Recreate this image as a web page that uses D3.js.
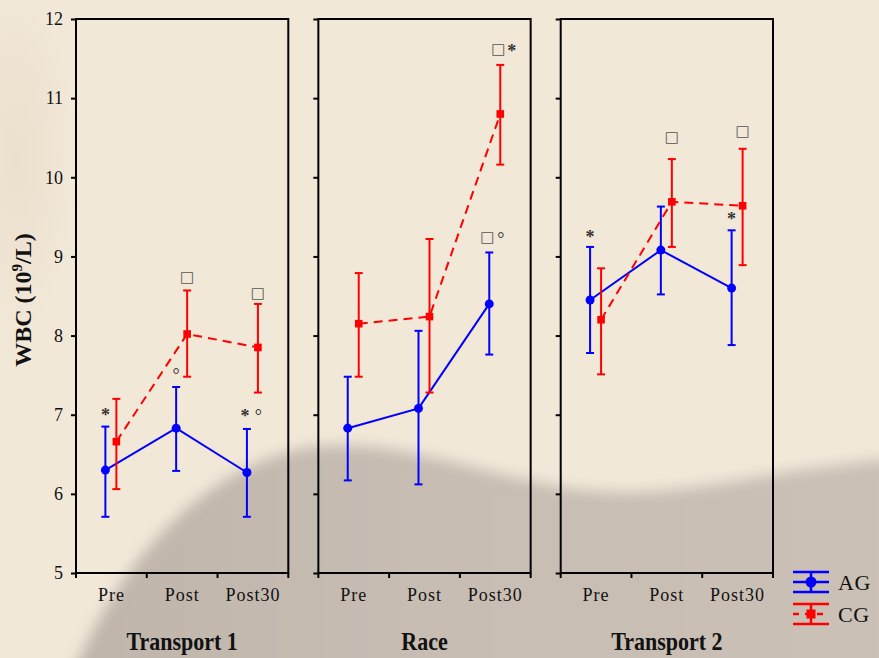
<!DOCTYPE html>
<html>
<head>
<meta charset="utf-8">
<script src="https://cdn.jsdelivr.net/npm/d3@7"></script>
<style>
  body { margin: 0; background: #f2e8d8; }
  svg { display: block; }
</style>
</head>
<body>
<div id="chart"></div>
<script>
const panels = ["Transport 1", "Race", "Transport 2"];
const times = ["Pre", "Post", "Post30"];
const groups = ["AG", "CG"];
const yTicks = [5, 6, 7, 8, 9, 10, 11, 12];

// means per panel (rows) and time (cols)
const agMean = [[6.30, 6.83, 6.27], [6.83, 7.08, 8.40], [8.45, 9.08, 8.60]];
const agHigh = [[6.85, 7.35, 6.82], [7.48, 8.06, 9.05], [9.12, 9.63, 9.33]];
const agLow  = [[5.71, 6.29, 5.71], [6.17, 6.12, 7.76], [7.78, 8.52, 7.88]];
const cgMean = [[6.66, 8.02, 7.85], [8.15, 8.24, 10.80], [8.20, 9.69, 9.64]];
const cgHigh = [[7.20, 8.57, 8.40], [8.79, 9.22, 11.42], [8.85, 10.23, 10.36]];
const cgLow  = [[6.06, 7.48, 7.28], [7.48, 7.28, 10.16], [7.51, 9.12, 8.89]];

// significance marks: panel, time, group, glyphs, level (WBC units)
const marks = [
  ["Transport 1", "Pre", "AG", "*", 7.02],
  ["Transport 1", "Post", "AG", "°", 7.53],
  ["Transport 1", "Post", "CG", "□", 8.74],
  ["Transport 1", "Post30", "CG", "□", 8.54],
  ["Transport 1", "Post30", "AG", "*°", 7.01],
  ["Race", "Post30", "CG", "□*", 11.62],
  ["Race", "Post30", "AG", "□°", 9.25],
  ["Transport 2", "Pre", "AG", "*", 9.27],
  ["Transport 2", "Post", "CG", "□", 10.51],
  ["Transport 2", "Post30", "CG", "□", 10.59],
  ["Transport 2", "Post30", "AG", "*", 9.50]
];

const width = 879, height = 658;
const serif = "'Liberation Serif', 'Times New Roman', serif";
const colour = {AG: "#0000ff", CG: "#ff0000"};

const svg = d3.select("#chart").append("svg")
    .attr("width", width)
    .attr("height", height);

// background: beige paper with a blurred grey shape
const defs = svg.append("defs");
defs.append("filter").attr("id", "blur")
    .attr("x", "-20%").attr("y", "-20%").attr("width", "140%").attr("height", "140%")
    .append("feGaussianBlur").attr("stdDeviation", 7);
const greyGrad = defs.append("linearGradient").attr("id", "grey")
    .attr("x1", 0).attr("y1", 0).attr("x2", 1).attr("y2", 0);
greyGrad.append("stop").attr("offset", "0%").attr("stop-color", "#bfb5ab");
greyGrad.append("stop").attr("offset", "45%").attr("stop-color", "#c7bdb3");
greyGrad.append("stop").attr("offset", "100%").attr("stop-color", "#cac0b6");
const warm = defs.append("radialGradient").attr("id", "warm");
warm.append("stop").attr("offset", "0%").attr("stop-color", "#e8dbc8").attr("stop-opacity", 0.7);
warm.append("stop").attr("offset", "100%").attr("stop-color", "#e8dbc8").attr("stop-opacity", 0);

svg.append("rect").attr("width", width).attr("height", height).attr("fill", "#f2e8d8");
svg.append("ellipse").attr("cx", 15).attr("cy", 160).attr("rx", 60).attr("ry", 180).attr("fill", "url(#warm)");
svg.append("path")
    .attr("d", "M 70,680 C 120,560 200,472 300,449 C 380,434 460,468 560,487 C 650,502 720,482 800,470 C 840,465 860,462 890,458 L 890,680 Z")
    .attr("fill", "url(#grey)")
    .attr("filter", "url(#blur)");

// scales
const panelX = d3.scaleBand().domain(panels).range([76, 773]).paddingInner(0.124);
const y = d3.scaleLinear().domain([5, 12]).range([573, 19]);
const offset = d3.scalePoint().domain(groups).range([-6, 5]);

const series = {
  AG: {mean: agMean, high: agHigh, low: agLow},
  CG: {mean: cgMean, high: cgHigh, low: cgLow}
};

panels.forEach((p, pi) => {
  const x0 = panelX(p), w = panelX.bandwidth();
  const x = d3.scaleBand().domain(times).range([x0, x0 + w]);
  const cx = (t, g) => x(t) + x.bandwidth() / 2 + offset(g);
  const g = svg.append("g");

  // frame
  g.append("rect")
      .attr("x", x0).attr("y", y(12))
      .attr("width", w).attr("height", y(5) - y(12))
      .attr("fill", "none").attr("stroke", "#000").attr("stroke-width", 2);

  // y axis ticks
  const yAxis = d3.axisLeft(y).tickValues(yTicks).tickFormat(d3.format("d")).tickSize(5).tickPadding(8);
  const ya = g.append("g").attr("transform", `translate(${x0},0)`).call(yAxis);
  ya.select(".domain").remove();
  ya.selectAll("line").attr("stroke-width", 2);
  if (pi === 0) {
    ya.selectAll("text")
        .attr("font-family", serif)
        .attr("font-size", 18)
        .attr("fill", "#111");
  } else {
    ya.selectAll("text").remove();
  }

  // x axis ticks at band boundaries
  const xa = g.append("g").attr("transform", `translate(0,${y(5)})`);
  xa.selectAll("line")
      .data(times.map(t => x(t)).concat([x0 + w]))
      .join("line")
      .attr("x1", d => d).attr("x2", d => d)
      .attr("y1", 0).attr("y2", 5)
      .attr("stroke", "#000").attr("stroke-width", 2);
  xa.selectAll("text")
      .data(times)
      .join("text")
      .attr("x", t => x(t) + x.bandwidth() / 2)
      .attr("y", 28)
      .attr("text-anchor", "middle")
      .attr("font-family", serif)
      .attr("font-size", 18)
      .attr("letter-spacing", "1px")
      .attr("fill", "#111")
      .text(t => t);

  // panel title (slightly condensed like the original)
  g.append("text")
      .attr("transform", `translate(${x0 + w / 2},650) scale(0.88,1)`)
      .attr("text-anchor", "middle")
      .attr("font-family", serif).attr("font-size", 25).attr("font-weight", "bold")
      .attr("fill", "#111")
      .text(p);

  // series
  groups.forEach(s => {
    const d = series[s];
    const pts = times.map((t, ti) => ({t, m: d.mean[pi][ti], hi: d.high[pi][ti], lo: d.low[pi][ti]}));
    const line = d3.line().x(q => cx(q.t, s)).y(q => y(q.m));
    g.append("path")
        .attr("d", line(pts))
        .attr("fill", "none")
        .attr("stroke", colour[s]).attr("stroke-width", 2)
        .attr("stroke-dasharray", s === "CG" ? "9,6" : null);

    const eb = g.append("g").attr("stroke", colour[s]).attr("stroke-width", 2);
    eb.selectAll(".v").data(pts).join("line")
        .attr("x1", q => cx(q.t, s)).attr("x2", q => cx(q.t, s))
        .attr("y1", q => y(q.hi)).attr("y2", q => y(q.lo));
    eb.selectAll(".hi").data(pts).join("line")
        .attr("x1", q => cx(q.t, s) - 4).attr("x2", q => cx(q.t, s) + 4)
        .attr("y1", q => y(q.hi)).attr("y2", q => y(q.hi));
    eb.selectAll(".lo").data(pts).join("line")
        .attr("x1", q => cx(q.t, s) - 4).attr("x2", q => cx(q.t, s) + 4)
        .attr("y1", q => y(q.lo)).attr("y2", q => y(q.lo));

    if (s === "AG") {
      g.selectAll(null).data(pts).join("circle")
          .attr("cx", q => cx(q.t, s)).attr("cy", q => y(q.m))
          .attr("r", 4.5).attr("fill", colour[s]);
    } else {
      g.selectAll(null).data(pts).join("rect")
          .attr("x", q => cx(q.t, s) - 3.8).attr("y", q => y(q.m) - 3.8)
          .attr("width", 7.6).attr("height", 7.6).attr("fill", colour[s]);
    }
  });

  // significance marks
  marks.filter(m => m[0] === p).forEach(([, t, s, glyphs, lvl]) => {
    const chars = Array.from(glyphs);
    const start = cx(t, s) - (chars.length > 1 ? 2 : 0);
    chars.forEach((c, ci) => {
      const gx = start + ci * 13.5;
      if (c === "□") {
        g.append("text")
            .attr("x", gx).attr("y", y(lvl))
            .attr("text-anchor", "middle").attr("dominant-baseline", "central")
            .attr("font-family", "'DejaVu Sans', sans-serif").attr("font-size", 15)
            .attr("fill", "#555")
            .text(c);
      } else {
        g.append("text")
            .attr("x", gx).attr("y", y(lvl) + 8)
            .attr("text-anchor", "middle")
            .attr("font-family", serif).attr("font-size", 18)
            .attr("font-weight", c === "*" ? "bold" : null)
            .attr("fill", "#333")
            .text(c);
      }
    });
  });
});

// y axis label
svg.append("text")
    .attr("transform", "translate(31,300) rotate(-90)")
    .attr("text-anchor", "middle")
    .attr("font-family", serif).attr("font-size", 24).attr("font-weight", "bold")
    .attr("fill", "#111")
    .call(t => {
      t.append("tspan").text("WBC (10");
      t.append("tspan").attr("dy", -9).attr("font-size", 15).text("9");
      t.append("tspan").attr("dy", 9).text("/L)");
    });

// legend
const lg = svg.append("g");
const legendY = d3.scalePoint().domain(groups).range([582, 614]);
groups.forEach(s => {
  const ly = legendY(s);
  const item = lg.append("g").attr("stroke", colour[s]).attr("stroke-width", 2.5);
  item.append("line").attr("x1", 793).attr("x2", 829).attr("y1", ly - 10).attr("y2", ly - 10);
  item.append("line").attr("x1", 793).attr("x2", 829).attr("y1", ly + 10).attr("y2", ly + 10);
  item.append("line").attr("x1", 811).attr("x2", 811).attr("y1", ly - 10).attr("y2", ly + 10);
  if (s === "AG") {
    item.append("line").attr("x1", 793).attr("x2", 829).attr("y1", ly).attr("y2", ly);
    item.append("circle").attr("cx", 811).attr("cy", ly).attr("r", 5.5).attr("fill", colour[s]).attr("stroke", "none");
  } else {
    item.append("line").attr("x1", 793).attr("x2", 829).attr("y1", ly).attr("y2", ly)
        .attr("stroke-dasharray", "6,6");
    item.append("rect").attr("x", 806.5).attr("y", ly - 4.5).attr("width", 9).attr("height", 9)
        .attr("fill", colour[s]).attr("stroke", "none");
  }
  lg.append("text")
      .attr("x", 838).attr("y", ly + 8)
      .attr("font-family", serif).attr("font-size", 22)
      .attr("letter-spacing", "0.5px")
      .attr("fill", "#111")
      .text(s);
});
</script>
</body>
</html>
